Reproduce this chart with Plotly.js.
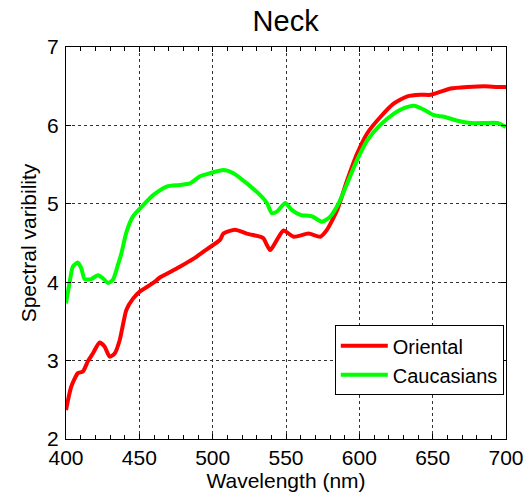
<!DOCTYPE html>
<html>
<head>
<meta charset="utf-8">
<script src="https://cdn.plot.ly/plotly-3.0.1.min.js"></script>
<style>html,body{margin:0;padding:0;background:#fff;}#chart{width:529px;height:493px;}</style>
</head>
<body>
<div id="chart"></div>
<script>
const orientalWl = [400,403.6,408.1,411.5,414.9,418.3,422.9,426.3,429.8,433.2,436.6,441.2,445.7,450.3,459.4,464,470,477,487,496,505,507.3,515.3,523.3,532.4,534.6,539.2,543.8,548.3,555.2,565.4,573.4,578,584.9,591.7,598.5,605.4,614.5,623.6,632.7,641.8,648.7,655.5,662.3,673.8,685.2,694.3,700];
const orientalVal = [2.37,2.67,2.84,2.86,2.99,3.09,3.23,3.18,3.05,3.09,3.26,3.65,3.79,3.88,3.99,4.06,4.12,4.19,4.30,4.42,4.54,4.62,4.67,4.62,4.58,4.56,4.41,4.54,4.66,4.58,4.62,4.58,4.67,4.92,5.30,5.64,5.90,6.11,6.28,6.37,6.39,6.39,6.43,6.47,6.49,6.50,6.49,6.49];
const caucWl = [400,402.4,404.7,408.1,410.4,412.7,417.2,421.8,425.2,428.6,432,435.4,437.8,441.2,445.7,452.5,459.4,468.6,477.6,484.5,491.3,498.2,507.3,514.1,523.3,532.4,537,540.4,543.8,549.5,554.1,559.8,567.8,574.6,580.3,586,591.7,598.5,605.4,614.5,623.6,630.4,637.3,644.1,651,657.8,666.9,676,685.2,694.3,700];
const caucVal = [3.73,3.99,4.20,4.25,4.18,4.04,4.04,4.09,4.05,3.99,4.03,4.22,4.37,4.64,4.84,4.98,5.11,5.22,5.24,5.26,5.35,5.39,5.43,5.39,5.26,5.11,5.01,4.88,4.90,5.01,4.92,4.86,4.84,4.77,4.84,5.01,5.26,5.56,5.81,6.01,6.15,6.22,6.25,6.20,6.13,6.11,6.06,6.03,6.03,6.03,5.98];
const seriesNames = ["Oriental","Caucasians"];
const xTicks = [400,450,500,550,600,650,700];
const yTicks = [2,3,4,5,6,7];

const font = "Arial, 'Liberation Sans', sans-serif";
const traces = [
  {x: orientalWl, y: orientalVal, name: seriesNames[0], mode: "lines", line: {color: "#ff0000", width: 4, shape: "spline", smoothing: 0.6}},
  {x: caucWl, y: caucVal, name: seriesNames[1], mode: "lines", line: {color: "#00ff00", width: 4, shape: "spline", smoothing: 0.6}}
];
const layout = {
  width: 529, height: 493,
  margin: {l: 66, r: 23, t: 47, b: 54, pad: 0},
  paper_bgcolor: "#fff", plot_bgcolor: "#fff",
  font: {family: font, color: "#000", size: 21},
  title: {text: "Neck", font: {family: font, size: 29, color: "#000"}, x: 0.54, xanchor: "center", y: 0.958, yanchor: "middle"},
  showlegend: true,
  legend: {x: 0.995, xanchor: "right", y: 0.29, yanchor: "top", bgcolor: "#fff", bordercolor: "#000", borderwidth: 1, font: {family: font, size: 20, color: "#000"}, tracegroupgap: 0, itemwidth: 47},
  xaxis: {
    range: [400, 700], tickvals: xTicks, ticktext: xTicks.map(String),
    showline: true, linecolor: "#000", linewidth: 1, mirror: "allticks",
    ticks: "inside", ticklen: 5, tickcolor: "#000",
    showgrid: true, gridcolor: "#333", gridwidth: 1, griddash: "3px,3px",
    minor: {dtick: 10, tick0: 400, ticks: "inside", ticklen: 4, tickcolor: "#000", showgrid: false},
    zeroline: false, tickfont: {size: 21, family: font}, ticklabelstandoff: 0,
    title: {text: "Wavelength (nm)", font: {size: 21, family: font}, standoff: 1}
  },
  yaxis: {
    range: [2, 7], tickvals: yTicks, ticktext: yTicks.map(String),
    showline: true, linecolor: "#000", linewidth: 1, mirror: "allticks",
    ticks: "inside", ticklen: 5, tickcolor: "#000",
    showgrid: true, gridcolor: "#333", gridwidth: 1, griddash: "3px,3px",
    zeroline: false, tickfont: {size: 21, family: font}, ticklabelstandoff: 2,
    title: {text: "Spectral varibility", font: {size: 21, family: font}, standoff: 4}
  }
};
Plotly.newPlot("chart", traces, layout, {displayModeBar: false, staticPlot: true});
</script>
</body>
</html>
